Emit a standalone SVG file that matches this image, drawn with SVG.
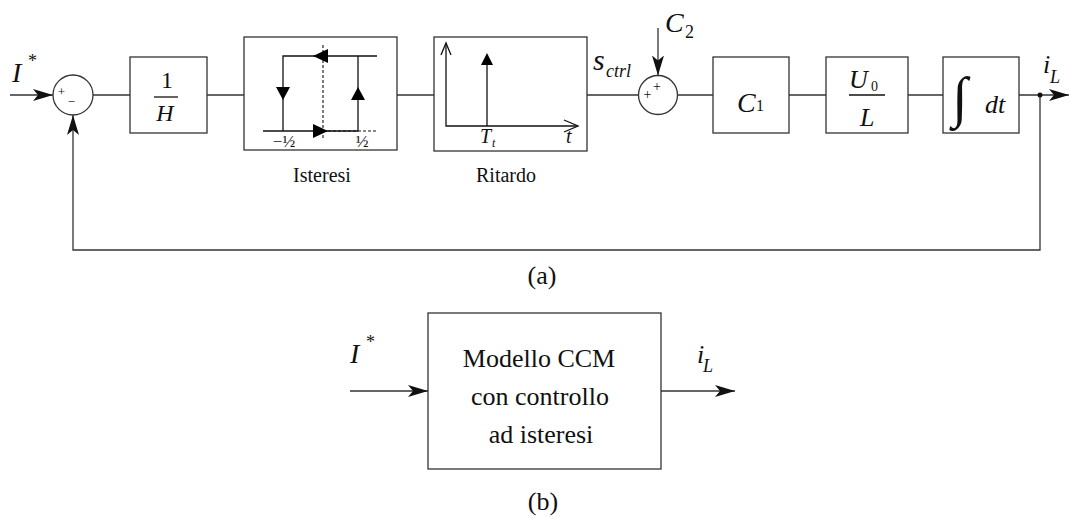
<svg xmlns="http://www.w3.org/2000/svg" width="1070" height="518" viewBox="0 0 1070 518">
<style>
.ln{fill:none;stroke:#333;stroke-width:1.3}
.bx{fill:#fff;stroke:#333;stroke-width:1.3}
.dash{fill:none;stroke:#111;stroke-width:1.1;stroke-dasharray:3,2}
.k{fill:none;stroke:#111;stroke-width:1.3}
text{font-family:'Liberation Serif','DejaVu Serif',serif;fill:#111}
.i{font-style:italic}
</style>
<defs>
<marker id="ah" viewBox="0 0 20 12" refX="20" refY="6" markerWidth="20" markerHeight="12" markerUnits="userSpaceOnUse" orient="auto">
<path d="M0,0 L20,6 L0,12 L5,6 Z" fill="#111"/>
</marker>
</defs>
<rect width="1070" height="518" fill="#fff"/>

<g id="connectors">
<line class="ln" x1="10" y1="95" x2="53" y2="95" marker-end="url(#ah)"/>
<line class="ln" x1="93" y1="95" x2="130" y2="95"/>
<line class="ln" x1="207" y1="95" x2="244" y2="95"/>
<line class="ln" x1="397" y1="95" x2="434" y2="95"/>
<line class="ln" x1="587" y1="95" x2="638" y2="95"/>
<line class="ln" x1="658" y1="28" x2="658" y2="75.5" marker-end="url(#ah)"/>
<line class="ln" x1="677.5" y1="95" x2="713" y2="95"/>
<line class="ln" x1="789" y1="95" x2="826" y2="95"/>
<line class="ln" x1="908" y1="95" x2="943" y2="95"/>
<line class="ln" x1="1019" y1="95" x2="1069" y2="95" marker-end="url(#ah)"/>
<polyline class="ln" points="1040,95 1040,250 73,250 73,115" marker-end="url(#ah)"/>
<circle cx="1040" cy="95" r="2.5" fill="#111"/>
<line class="ln" x1="350" y1="391" x2="428" y2="391" marker-end="url(#ah)"/>
<line class="ln" x1="661" y1="391" x2="735" y2="391" marker-end="url(#ah)"/>
</g>

<g id="input-a">
<text class="i" x="12" y="82" font-size="28">I</text>
<text x="28" y="67" font-size="18">*</text>
</g>

<g id="sum1">
<circle class="bx" cx="73" cy="95" r="20"/>
<text x="61.5" y="96" font-size="13" text-anchor="middle">+</text>
<text x="71.5" y="106" font-size="13" text-anchor="middle">−</text>
</g>

<g id="gain-H">
<rect class="bx" x="130" y="57" width="77" height="76"/>
<text x="167" y="88" font-size="24" text-anchor="middle">1</text>
<line class="k" x1="154" y1="97" x2="178" y2="97"/>
<text class="i" x="165" y="121" font-size="24" text-anchor="middle">H</text>
</g>

<g id="isteresi">
<rect class="bx" x="244" y="37" width="153" height="113"/>
<line class="dash" x1="323" y1="45" x2="323" y2="140"/>
<line class="dash" x1="328" y1="131" x2="378" y2="131"/>
<polyline class="k" points="377,56 283,56 283,131"/>
<line class="k" x1="263" y1="131" x2="323" y2="131"/>
<polyline class="k" points="323,131 358,131 358,56"/>
<path d="M313,56 L328,49 L328,63 Z" fill="#000"/>
<path d="M283,100 L276,87 L290,87 Z" fill="#000"/>
<path d="M358,87 L351,100 L365,100 Z" fill="#000"/>
<path d="M328,131 L313,124 L313,138 Z" fill="#000"/>
<text x="284" y="147" font-size="17" text-anchor="middle">−½</text>
<text x="362" y="147" font-size="17" text-anchor="middle">½</text>
<text x="322" y="182" font-size="20" text-anchor="middle">Isteresi</text>
</g>

<g id="ritardo">
<rect class="bx" x="434" y="37" width="153" height="114"/>
<polyline class="k" points="446,43 446,126 578,126"/>
<polyline class="k" points="441,55 446,43 451,55"/>
<polyline class="k" points="564,120 578,126 564,132"/>
<line class="k" x1="487" y1="126" x2="487" y2="62"/>
<path d="M487,53 L481,65 L493,65 Z" fill="#000"/>
<text class="i" x="480" y="143" font-size="20">T</text>
<text class="i" x="492" y="147" font-size="12">t</text>
<text class="i" x="566" y="143" font-size="20">t</text>
<text x="506" y="182" font-size="20" text-anchor="middle">Ritardo</text>
</g>

<g id="sctrl">
<text class="i" x="593" y="70" font-size="30">s</text>
<text class="i" x="606" y="77" font-size="18">ctrl</text>
</g>

<g id="sum2">
<circle class="bx" cx="658" cy="95" r="19.5"/>
<text x="647.5" y="99" font-size="14" text-anchor="middle">+</text>
<text x="657" y="91" font-size="14" text-anchor="middle">+</text>
<text class="i" x="665" y="32" font-size="28">C</text>
<text x="685" y="38" font-size="18">2</text>
</g>

<g id="gain-C1">
<rect class="bx" x="713" y="57" width="76" height="76"/>
<text class="i" x="737" y="112" font-size="28">C</text>
<text x="756" y="111" font-size="16">1</text>
</g>

<g id="gain-U0L">
<rect class="bx" x="826" y="57" width="82" height="76"/>
<text class="i" x="849" y="88" font-size="26">U</text>
<text x="871" y="91" font-size="14">0</text>
<line class="k" x1="849" y1="95" x2="885" y2="95"/>
<text class="i" x="860" y="126" font-size="26">L</text>
</g>

<g id="integrator">
<rect class="bx" x="943" y="57" width="76" height="76"/>
<text x="952" y="116" font-size="56">∫</text>
<text class="i" x="985" y="113" font-size="26">dt</text>
</g>

<g id="output-a">
<text class="i" x="1043" y="73" font-size="26">i</text>
<text class="i" x="1050" y="83" font-size="18">L</text>
</g>

<text x="542" y="284" font-size="26" text-anchor="middle">(a)</text>

<g id="model-b">
<rect class="bx" x="428" y="313" width="233" height="156"/>
<text x="539" y="367" font-size="26" text-anchor="middle">Modello CCM</text>
<text x="540" y="405" font-size="26" text-anchor="middle">con controllo</text>
<text x="541" y="443" font-size="26" text-anchor="middle">ad isteresi</text>
</g>

<g id="input-b">
<text class="i" x="350" y="363" font-size="28">I</text>
<text x="366" y="348" font-size="18">*</text>
</g>

<g id="output-b">
<text class="i" x="697" y="363" font-size="26">i</text>
<text class="i" x="703" y="372" font-size="18">L</text>
</g>

<text x="543" y="510" font-size="26" text-anchor="middle">(b)</text>
</svg>
